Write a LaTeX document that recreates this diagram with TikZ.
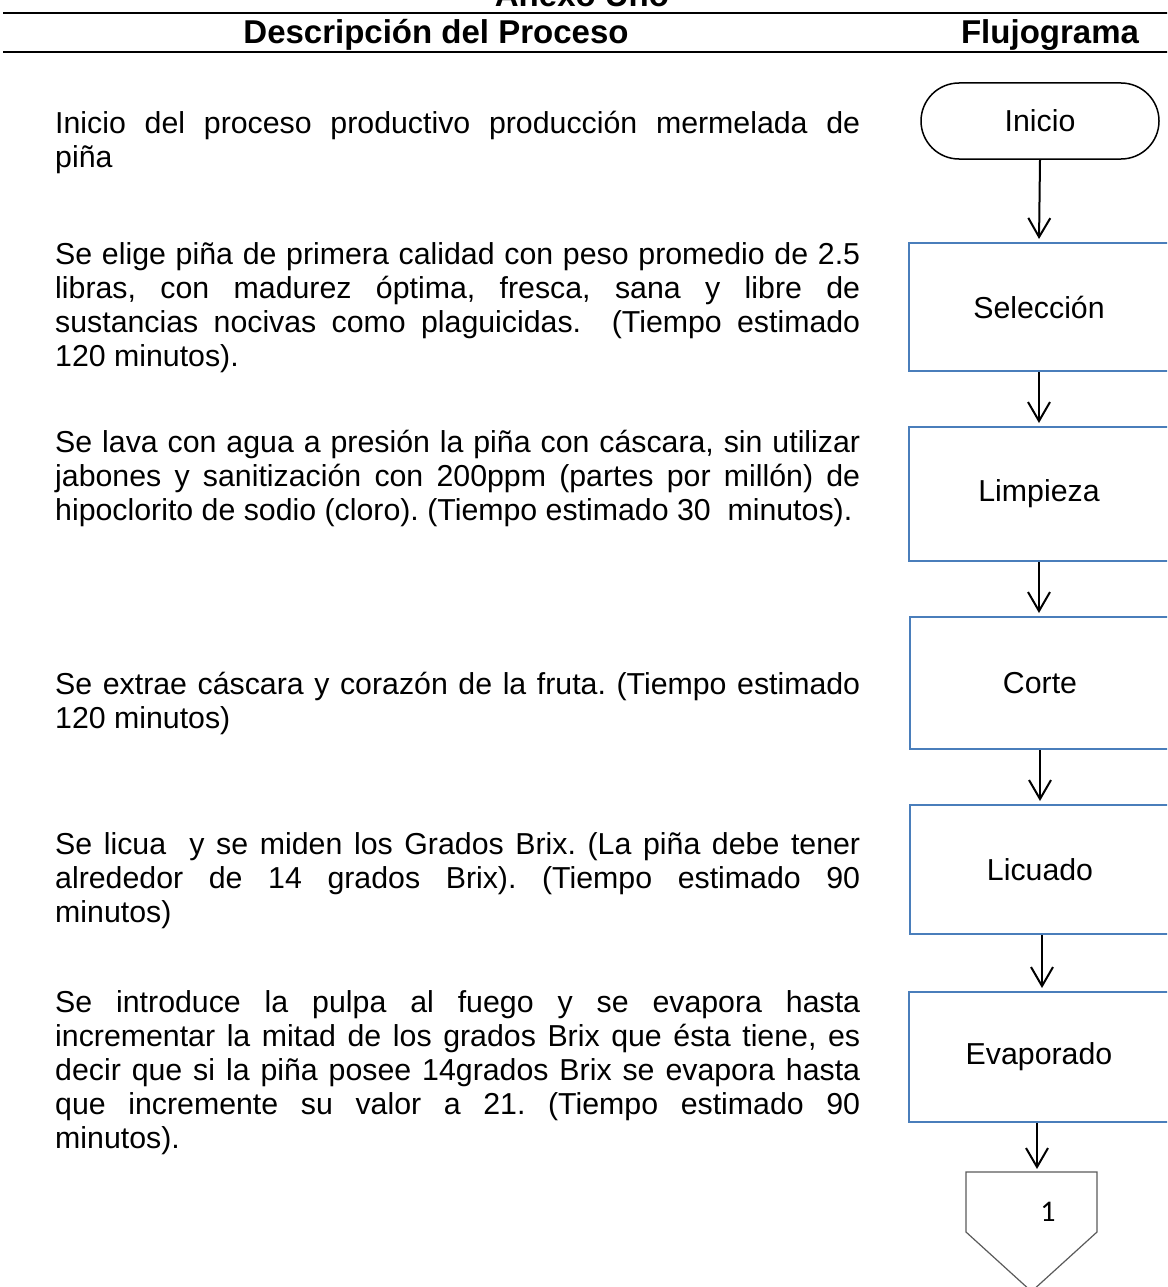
\documentclass[tikz,border=0pt]{standalone}
\usepackage{fontspec}
\setmainfont{Liberation Sans}
\newfontfamily\calib{Carlito}
\usetikzlibrary{arrows.meta}
\definecolor{boxblue}{RGB}{74,126,187}
\definecolor{offgray}{RGB}{90,90,90}
\hyphenpenalty=10000
\exhyphenpenalty=10000
\tolerance=9999
\emergencystretch=30pt
\frenchspacing
\newcommand{\bodyfont}{\fontsize{30.3}{34}\selectfont}
\newcommand{\headfont}{\fontsize{33}{38}\selectfont\bfseries}
\begin{document}
\begin{tikzpicture}[x=1pt,y=-1pt,
  bodytxt/.style={anchor=north west, inner sep=0pt, text width=805pt, align=justify, font=\bodyfont},
  headtxt/.style={anchor=base, inner sep=0pt, font=\headfont},
  termbox/.style={draw=black, line width=1.5pt, rectangle, rounded corners=38pt,
    minimum width=238pt, minimum height=76pt, inner sep=0pt, font=\bodyfont},
  procbox/.style={draw=boxblue, line width=2pt, rectangle, minimum width=260pt,
    inner sep=0pt, font=\bodyfont},
  arr/.style={draw=black, line width=2pt, -{Straight Barb[length=19pt,width=22pt]}, shorten >=3pt},
  hline/.style={draw=black, line width=2.5pt}
]
\useasboundingbox (0,0) rectangle (1167,1287);
\clip (0,0) rectangle (1167,1287);

% header
\node[headtxt] (title) at (582,7) {Anexo Uno};
\coordinate (l1a) at (3,13);
\coordinate (l1b) at (1170,13);
\coordinate (l2a) at (3,52);
\coordinate (l2b) at (1170,52);
\draw[hline] (l1a) -- (l1b);
\draw[hline] (l2a) -- (l2b);
\node[headtxt] (hdesc) at (436,44) {Descripción del Proceso};
\node[headtxt] (hflu) at (1050,44) {Flujograma};

% descriptions
\node[bodytxt] (p1) at (55,133-23.8) {\strut Inicio del proceso productivo producción mermelada de\linebreak piña};
\node[bodytxt] (p2) at (55,264-23.8) {\strut Se elige piña de primera calidad con peso promedio de 2.5\linebreak libras, con madurez óptima, fresca, sana y libre de\linebreak sustancias nocivas como plaguicidas.\ \ (Tiempo estimado\linebreak 120 minutos).};
\node[bodytxt] (p3) at (55,452-23.8) {\strut Se lava con agua a presión la piña con cáscara, sin utilizar\linebreak jabones y sanitización con 200ppm (partes por millón) de\linebreak hipoclorito de sodio (cloro). (Tiempo estimado 30\ \ minutos).};
\node[bodytxt] (p4) at (55,694-23.8) {\strut Se extrae cáscara y corazón de la fruta. (Tiempo estimado\linebreak 120 minutos)};
\node[bodytxt] (p5) at (55,854-23.8) {\strut Se licua\ \ y se miden los Grados Brix. (La piña debe tener\linebreak alrededor de 14 grados Brix). (Tiempo estimado 90\linebreak minutos)};
\node[bodytxt] (p6) at (55,1012-23.8) {\strut Se introduce la pulpa al fuego y se evapora hasta\linebreak incrementar la mitad de los grados Brix que ésta tiene, es\linebreak decir que si la piña posee 14grados Brix se evapora hasta\linebreak que incremente su valor a 21. (Tiempo estimado 90\linebreak minutos).};

% flowchart
\node[termbox] (inicio) at (1040,121) {Inicio};
\node[procbox, minimum height=128pt] (sel) at (1039,307) {Selección};
\node[procbox, minimum height=134pt] (lim) at (1039,494) {Limpieza};
\node[procbox, minimum height=132pt] (cor) at (1040,683) {Corte};
\node[procbox, minimum height=129pt] (lic) at (1040,869.5) {Licuado};
\node[procbox, minimum height=130pt] (eva) at (1039,1057) {Evaporado};

\coordinate (offin) at (1037,1172);
\draw[draw=offgray, line width=1.2pt] (966,1172) -- (1097,1172) -- (1097,1232) -- (1031.5,1291.5) -- (966,1232) -- cycle;
\node[inner sep=0pt, font=\calib\fontsize{30}{34}\selectfont] (one) at (1048,1212) {1};

\draw[arr] (inicio.south) -- (sel.north);
\draw[arr] (sel.south) -- (lim.north);
\draw[arr] (lim.south) -- (lim.south |- cor.north);
\draw[arr] (cor.south) -- (cor.south |- lic.north);
\draw[arr] ([xshift=2pt]lic.south) -- ([xshift=2pt]lic.south |- eva.north);
\draw[arr] (eva.south -| offin) -- (offin);
\end{tikzpicture}
\end{document}
